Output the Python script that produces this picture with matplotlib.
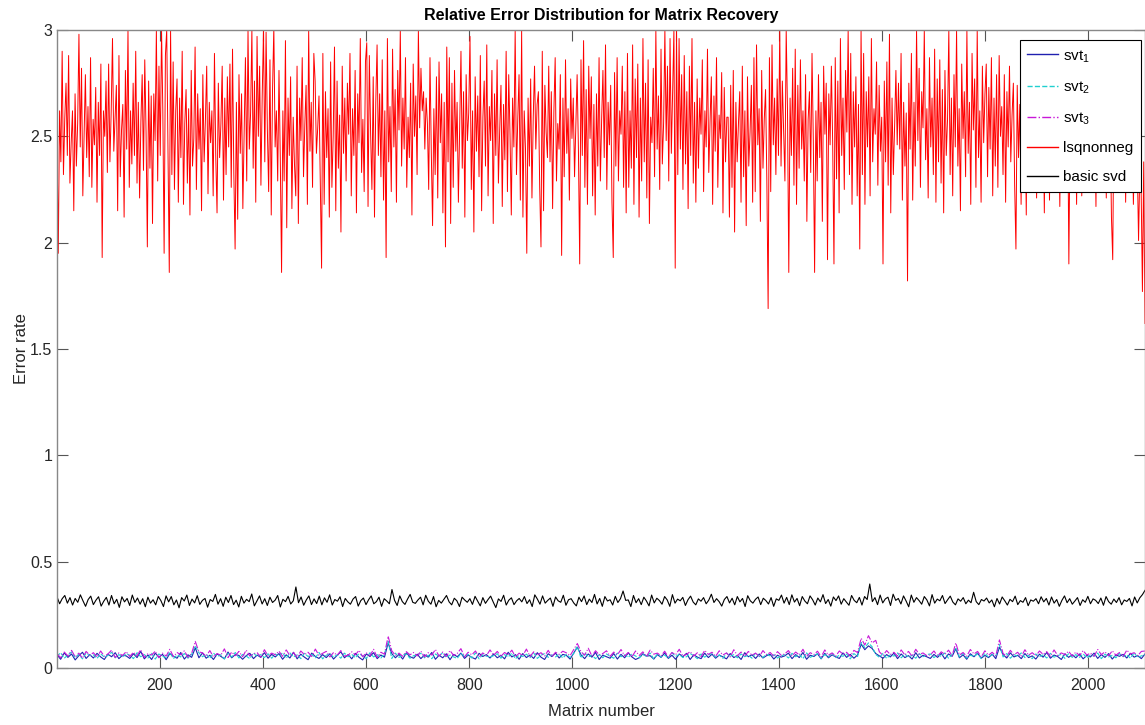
import numpy as np
import matplotlib
matplotlib.use("Agg")
import matplotlib.pyplot as plt

plt.rcParams['font.family'] = ['Liberation Sans', 'DejaVu Sans']

# lsqnonneg error, in hundredths (about every 2.5th matrix)
lsq_pct = [
    250, 195, 262, 238, 290, 232, 258, 275, 241, 288, 228, 247, 262, 215, 270, 236, 256, 298, 245, 282, 222, 251, 279, 240, 264, 231, 287, 226, 258, 246, 273, 219, 266, 241, 284, 193, 262, 250, 276, 233,
    284, 238, 262, 296, 243, 259, 274, 215, 288, 231, 253, 265, 212, 281, 244, 300, 226, 262, 237, 275, 241, 290, 228, 266, 221, 257, 279, 234, 286, 252, 198, 276, 235, 269, 209, 270, 248, 300, 229, 283,
    241, 300, 262, 195, 288, 300, 244, 186, 300, 232, 285, 225, 262, 277, 219, 268, 240, 290, 218, 256, 272, 228, 263, 213, 281, 236, 249, 292, 225, 270, 244, 263, 215, 279, 238, 258, 283, 223, 266, 247,
    262, 222, 289, 241, 214, 275, 240, 256, 283, 220, 268, 232, 278, 245, 284, 226, 291, 233, 197, 266, 211, 279, 242, 270, 216, 252, 287, 229, 300, 244, 261, 300, 235, 276, 219, 297, 250, 283, 227, 269,
    300, 238, 299, 253, 224, 286, 213, 272, 301, 245, 262, 229, 281, 240, 186, 262, 229, 295, 207, 268, 241, 278, 216, 259, 237, 222, 283, 209, 268, 248, 287, 231, 255, 274, 218, 300, 243, 266, 226, 289,
    276, 242, 254, 269, 230, 188, 289, 218, 271, 240, 263, 212, 285, 226, 250, 292, 215, 276, 235, 260, 205, 283, 242, 268, 229, 275, 251, 289, 222, 263, 241, 281, 214, 270, 247, 296, 233, 258, 224, 285,
    294, 217, 288, 251, 225, 278, 212, 266, 293, 241, 270, 231, 286, 220, 262, 193, 296, 238, 264, 224, 291, 245, 272, 219, 281, 253, 300, 236, 268, 244, 287, 226, 259, 240, 275, 213, 284, 250, 269, 232,
    300, 254, 282, 262, 271, 244, 268, 256, 225, 287, 243, 208, 263, 232, 278, 221, 285, 247, 270, 214, 266, 198, 292, 238, 287, 209, 275, 226, 281, 243, 266, 219, 255, 290, 235, 271, 212, 279, 248, 261,
    297, 225, 262, 205, 278, 243, 269, 231, 288, 215, 259, 276, 236, 293, 222, 264, 248, 281, 209, 270, 241, 286, 228, 253, 274, 217, 265, 239, 290, 224, 279, 251, 213, 268, 245, 300, 232, 258, 279, 220,
    300, 212, 262, 244, 195, 268, 236, 277, 221, 259, 283, 244, 265, 271, 226, 198, 290, 215, 274, 252, 240, 283, 238, 271, 216, 262, 287, 229, 256, 244, 279, 194, 268, 231, 286, 242, 263, 220, 277, 249,
    268, 231, 255, 279, 244, 190, 286, 241, 295, 226, 272, 218, 283, 249, 278, 222, 265, 213, 270, 236, 287, 229, 258, 281, 240, 293, 225, 266, 246, 274, 219, 193, 280, 236, 287, 229, 262, 251, 283, 226,
    271, 214, 289, 226, 262, 235, 293, 218, 277, 240, 284, 212, 268, 229, 296, 238, 275, 221, 286, 209, 259, 247, 282, 231, 300, 244, 269, 225, 291, 237, 256, 300, 248, 283, 229, 296, 242, 271, 300, 188,
    300, 232, 296, 244, 279, 225, 288, 237, 271, 216, 283, 241, 296, 228, 266, 219, 277, 235, 268, 251, 286, 224, 262, 245, 291, 233, 257, 278, 218, 269, 243, 287, 226, 260, 249, 280, 214, 273, 238, 259,
    259, 212, 274, 226, 281, 205, 266, 238, 256, 271, 219, 283, 231, 262, 208, 278, 236, 252, 274, 219, 287, 224, 293, 246, 263, 210, 281, 235, 258, 272, 229, 169, 287, 224, 293, 246, 268, 232, 277, 241,
    300, 236, 276, 252, 229, 300, 262, 186, 268, 241, 282, 227, 291, 218, 274, 235, 286, 244, 262, 229, 279, 210, 258, 271, 233, 289, 248, 186, 262, 229, 279, 240, 266, 210, 283, 251, 275, 192, 270, 246,
    283, 247, 190, 287, 230, 276, 214, 296, 241, 268, 225, 281, 252, 300, 232, 289, 218, 271, 245, 278, 222, 265, 197, 300, 232, 289, 218, 271, 245, 278, 222, 296, 238, 263, 251, 285, 227, 274, 243, 259,
    190, 276, 238, 285, 227, 298, 214, 268, 232, 255, 281, 246, 275, 244, 289, 220, 266, 236, 261, 182, 275, 244, 289, 220, 266, 236, 300, 248, 282, 226, 271, 254, 300, 239, 263, 221, 287, 245, 268, 232,
    291, 219, 277, 238, 286, 228, 272, 214, 281, 241, 258, 300, 232, 268, 222, 279, 245, 300, 236, 263, 215, 284, 249, 271, 231, 300, 242, 266, 218, 289, 253, 277, 226, 300, 240, 262, 219, 283, 247, 270,
    284, 231, 273, 244, 287, 222, 268, 236, 279, 226, 288, 250, 264, 232, 279, 219, 271, 245, 283, 238, 260, 275, 227, 197, 274, 240, 265, 218, 280, 233, 270, 213, 286, 248, 262, 229, 277, 240, 268, 221,
    262, 225, 281, 238, 270, 214, 276, 232, 266, 220, 271, 247, 258, 228, 280, 236, 263, 217, 275, 243, 266, 229, 254, 271, 190, 258, 229, 274, 243, 262, 218, 279, 235, 268, 222, 256, 247, 273, 230, 261,
    268, 226, 273, 239, 261, 217, 277, 230, 256, 249, 265, 236, 272, 221, 268, 244, 259, 212, 192, 270, 228, 263, 239, 274, 225, 258, 246, 266, 219, 270, 233, 255, 241, 262, 218, 249, 227, 238, 201, 235,
    226, 177, 238, 162,
]

# basic svd error, in thousandths
basic_milli = [
    335, 302, 326, 341, 305, 331, 296, 327, 309, 344, 316, 290, 322, 338, 298, 319, 335, 291, 314, 332,
    296, 341, 302, 323, 285, 335, 311, 327, 294, 343, 308, 329, 300, 326, 288, 333, 305, 321, 297, 336,
    317, 289, 339, 311, 336, 297, 320, 283, 331, 315, 343, 294, 324, 306, 340, 299, 318, 327, 286, 322,
    313, 346, 300, 326, 290, 333, 308, 341, 298, 319, 287, 337, 305, 323, 312, 348, 292, 316, 339, 301,
    326, 294, 333, 308, 319, 341, 287, 323, 312, 337, 301, 316, 381, 307, 334, 295, 320, 339, 298, 325,
    303, 338, 297, 330, 309, 344, 296, 322, 314, 335, 289, 327, 311, 300, 324, 336, 291, 317, 329, 298,
    321, 339, 302, 312, 333, 290, 326, 315, 302, 369, 318, 294, 339, 312, 299, 324, 346, 309, 304, 320,
    333, 297, 342, 314, 300, 336, 288, 318, 305, 323, 341, 311, 297, 328, 316, 289, 333, 320, 309, 326,
    299, 337, 315, 292, 331, 304, 322, 338, 310, 284, 325, 313, 342, 296, 319, 330, 298, 316, 327, 311,
    336, 303, 321, 289, 344, 324, 300, 339, 305, 318, 329, 290, 334, 316, 309, 342, 295, 321, 326, 306,
    292, 333, 312, 339, 298, 324, 308, 346, 301, 327, 290, 336, 315, 321, 296, 337, 308, 326, 362, 318,
    320, 289, 341, 307, 326, 298, 333, 315, 292, 343, 306, 328, 317, 300, 336, 320, 290, 345, 305, 324,
    316, 332, 294, 321, 338, 310, 297, 325, 314, 331, 302, 319, 347, 308, 326, 312, 291, 322, 336, 306,
    328, 297, 336, 311, 327, 289, 340, 316, 305, 323, 334, 298, 328, 317, 301, 331, 290, 325, 318, 343,
    305, 332, 298, 344, 310, 327, 293, 336, 315, 302, 339, 321, 296, 329, 311, 345, 303, 322, 291, 334,
    317, 339, 300, 326, 310, 295, 341, 318, 307, 332, 296, 336, 322, 395, 312, 331, 298, 343, 306, 325,
    333, 294, 347, 318, 327, 301, 339, 315, 288, 343, 309, 331, 317, 300, 336, 320, 292, 345, 305, 324,
    316, 341, 303, 321, 338, 310, 297, 325, 314, 331, 302, 319, 307, 356, 312, 298, 322, 315, 329, 306,
    320, 288, 327, 301, 334, 316, 296, 323, 312, 338, 298, 317, 309, 331, 293, 320, 314, 326, 302, 335,
    311, 327, 296, 334, 305, 322, 290, 318, 339, 307, 326, 300, 315, 331, 294, 321, 309, 337, 302, 325,
    318, 303, 329, 295, 336, 312, 300, 324, 308, 331, 297, 320, 313, 327, 292, 334, 306, 330, 345, 365,
]

# svt variants, in thousandths
svt1_milli = [
    62, 41, 71, 50, 66, 38, 58, 74, 45, 63, 47, 69, 52, 40, 65, 53, 72, 44, 60, 57,
    45, 67, 49, 78, 43, 61, 40, 70, 51, 64, 39, 68, 55, 46, 73, 42, 62, 50, 95, 48,
    71, 46, 60, 40, 66, 55, 43, 75, 48, 63, 59, 41, 58, 69, 44, 61, 50, 72, 46, 64,
    52, 68, 41, 62, 47, 74, 43, 65, 51, 39, 70, 54, 45, 63, 49, 67, 42, 60, 76, 48,
    63, 43, 69, 50, 38, 66, 54, 72, 44, 61, 51, 118, 68, 48, 64, 42, 71, 53, 46, 65,
    44, 62, 51, 73, 41, 60, 48, 67, 39, 64, 53, 70, 45, 61, 50, 42, 69, 54, 63, 47,
    66, 48, 59, 43, 74, 52, 63, 41, 68, 49, 61, 45, 72, 51, 40, 67, 54, 70, 47, 64,
    59, 42, 70, 98, 62, 44, 66, 51, 73, 40, 61, 53, 46, 68, 42, 64, 48, 71, 52, 40,
    48, 67, 56, 58, 42, 63, 50, 71, 45, 60, 41, 66, 53, 69, 40, 62, 51, 44, 70, 49,
    65, 46, 61, 52, 43, 68, 49, 59, 40, 72, 53, 62, 45, 66, 47, 58, 64, 42, 60, 51,
    57, 70, 44, 63, 49, 73, 41, 60, 54, 67, 43, 69, 48, 62, 52, 45, 71, 50, 64, 46,
    61, 112, 86, 104, 92, 68, 57, 46, 63, 52, 70, 44, 66, 49, 58, 42, 72, 47, 60, 53,
    45, 64, 50, 69, 43, 66, 55, 90, 48, 62, 41, 67, 53, 70, 46, 59, 49, 65, 44, 98,
    63, 47, 71, 52, 60, 44, 68, 49, 57, 42, 65, 51, 73, 46, 61, 54, 40, 67, 50, 62,
    48, 66, 43, 59, 52, 70, 45, 63, 50, 68, 42, 61, 55, 64, 47, 69, 51, 58, 44, 66,
]
svt2_milli = [
    55, 72, 46, 61, 75, 49, 64, 43, 70, 58, 62, 45, 67, 51, 59, 74, 48, 63, 52, 68,
    60, 44, 72, 53, 63, 47, 69, 42, 66, 55, 49, 74, 44, 61, 52, 68, 46, 64, 105, 71,
    53, 65, 45, 70, 54, 62, 43, 68, 52, 73, 47, 64, 56, 44, 71, 53, 63, 49, 67, 46,
    66, 55, 72, 46, 71, 52, 62, 44, 69, 54, 64, 48, 73, 43, 60, 67, 51, 62, 46, 70,
    53, 64, 48, 68, 56, 44, 72, 52, 63, 47, 67, 125, 45, 70, 50, 61, 66, 46, 58, 62,
    69, 48, 60, 44, 66, 55, 73, 49, 61, 52, 45, 69, 54, 64, 47, 71, 43, 63, 56, 51,
    58, 67, 46, 63, 52, 70, 43, 61, 54, 65, 49, 71, 45, 60, 68, 50, 62, 52, 66, 47,
    64, 49, 68, 102, 47, 72, 52, 60, 44, 63, 48, 66, 55, 46, 70, 53, 62, 50, 67, 56,
    48, 63, 55, 70, 43, 65, 52, 61, 46, 72, 54, 64, 49, 53, 68, 57, 44, 66, 51, 62,
    67, 52, 61, 45, 70, 55, 63, 48, 66, 53, 60, 46, 71, 54, 50, 65, 56, 62, 47, 58,
    62, 47, 69, 53, 64, 44, 71, 50, 59, 67, 45, 63, 52, 70, 48, 61, 55, 66, 43, 68,
    54, 120, 96, 118, 100, 64, 50, 69, 45, 62, 56, 71, 48, 65, 51, 60, 46, 67, 53, 63,
    66, 49, 62, 55, 71, 46, 64, 96, 52, 68, 47, 60, 54, 67, 44, 70, 50, 63, 57, 110,
    52, 68, 46, 63, 55, 71, 49, 60, 44, 66, 53, 62, 47, 69, 51, 58, 64, 45, 67, 50,
    63, 50, 67, 47, 61, 56, 70, 44, 65, 52, 59, 48, 68, 53, 62, 46, 71, 50, 57, 64,
]
svt3_milli = [
    68, 48, 75, 57, 83, 52, 70, 46, 78, 60, 72, 51, 80, 55, 66, 84, 49, 71, 58, 77,
    54, 74, 58, 86, 50, 68, 61, 79, 48, 70, 56, 88, 53, 73, 62, 81, 50, 69, 125, 76,
    71, 55, 82, 52, 68, 60, 90, 49, 75, 58, 78, 53, 84, 56, 67, 72, 51, 86, 57, 70,
    62, 79, 55, 85, 58, 72, 50, 80, 63, 74, 54, 89, 59, 69, 78, 52, 73, 60, 82, 56,
    60, 76, 62, 83, 53, 71, 58, 88, 50, 74, 65, 150, 81, 59, 70, 55, 77, 62, 73, 57,
    79, 52, 72, 61, 87, 56, 75, 54, 82, 59, 69, 91, 53, 74, 62, 80, 51, 71, 58, 85,
    60, 78, 55, 73, 62, 84, 52, 70, 58, 89, 54, 76, 61, 72, 56, 83, 53, 74, 64, 79,
    71, 58, 86, 115, 77, 60, 93, 56, 81, 62, 68, 81, 55, 75, 62, 87, 57, 73, 53, 80,
    59, 76, 54, 84, 65, 70, 57, 79, 51, 73, 62, 88, 56, 64, 77, 56, 72, 53, 83, 64,
    74, 55, 81, 61, 71, 52, 86, 58, 75, 56, 78, 60, 70, 53, 82, 62, 73, 55, 77, 60,
    66, 82, 57, 75, 61, 88, 54, 72, 63, 79, 52, 85, 60, 71, 56, 80, 65, 74, 55, 83,
    73, 140, 108, 152, 118, 130, 76, 59, 82, 63, 74, 56, 85, 61, 78, 55, 88, 64, 71, 58,
    62, 80, 56, 76, 64, 84, 58, 118, 61, 73, 55, 87, 66, 78, 52, 81, 60, 74, 57, 132,
    68, 55, 83, 62, 74, 53, 86, 60, 72, 57, 80, 64, 77, 54, 85, 59, 71, 63, 79, 56,
    75, 58, 82, 61, 70, 55, 87, 63, 76, 57, 81, 60, 73, 54, 84, 66, 72, 58, 78, 80,
]

n_matrix = 2110
x_ticks = [200, 400, 600, 800, 1000, 1200, 1400, 1600, 1800, 2000]
y_ticks = [0, 0.5, 1, 1.5, 2, 2.5, 3]
y_tick_labels = ["0", "0.5", "1", "1.5", "2", "2.5", "3"]

lsq = np.array(lsq_pct) / 100
basic = np.array(basic_milli) / 1000
svt1 = np.array(svt1_milli) / 1000
svt2 = np.array(svt2_milli) / 1000
svt3 = np.array(svt3_milli) / 1000


def idx(v):
    return np.linspace(1, n_matrix, len(v))


fig = plt.figure(figsize=(11.45, 7.25), dpi=100)
ax = fig.add_axes([57 / 1145, 57 / 725, 1088 / 1145, 638 / 725])

ax.plot(idx(svt1), svt1, color='#2020b0', lw=0.8, label='svt$_{\\mathregular{1}}$')
ax.plot(idx(svt2), svt2, color='#20d0d0', lw=0.8, ls='--', label='svt$_{\\mathregular{2}}$')
ax.plot(idx(svt3), svt3, color='#c818d8', lw=0.8, ls='-.', label='svt$_{\\mathregular{3}}$')
ax.plot(idx(lsq), lsq, color='#ff0000', lw=0.7, label='lsqnonneg')
ax.plot(idx(basic), basic, color='black', lw=0.8, label='basic svd')

ax.set_xlim(1, n_matrix)
ax.set_ylim(0, 3)
ax.set_xticks(x_ticks)
ax.set_yticks(y_ticks)
ax.set_yticklabels(y_tick_labels)
ax.tick_params(direction='in', length=8, width=0.8, color='#555555',
               labelsize=11.5, labelcolor='#262626', top=True, right=True)
ax.tick_params(axis='x', pad=7)
for s in ax.spines.values():
    s.set_color('#888888')
    s.set_linewidth(1.0)

ax.set_xlabel("Matrix number", fontsize=12, color='#262626')
ax.set_ylabel("Error rate", fontsize=12, color='#262626')
ax.xaxis.set_label_coords(0.5, -0.056)
ax.yaxis.set_label_coords(-0.026, 0.5)
ax.text(0.5, 1.0235, "Relative Error Distribution for Matrix Recovery",
        transform=ax.transAxes, ha='center', va='center',
        fontsize=11.5, fontweight='bold')

leg = ax.legend(loc='upper right', bbox_to_anchor=(0.9963, 0.984),
                fontsize=11, handlelength=2.0, fancybox=False, framealpha=1,
                edgecolor='black', borderpad=0.5, labelspacing=0.95,
                handletextpad=0.35, borderaxespad=0)
leg.get_frame().set_linewidth(0.8)
for ln in leg.get_lines():
    ln.set_linewidth(1.0)

fig.savefig("out.png", dpi=100)
